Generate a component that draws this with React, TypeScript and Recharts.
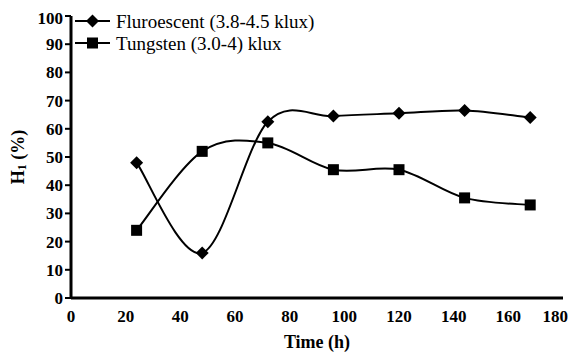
import { LineChart, Line, XAxis, YAxis, Legend } from "recharts";

const hours = [24, 48, 72, 96, 120, 144, 168];
const fluorescent = [48, 16, 62.5, 64.5, 65.5, 66.5, 64];
const tungsten = [24, 52, 55, 45.5, 45.5, 35.5, 33];
const xTicks = [0, 20, 40, 60, 80, 100, 120, 140, 160, 180];
const yTicks = [0, 10, 20, 30, 40, 50, 60, 70, 80, 90, 100];
const seriesNames = ["Fluroescent (3.8-4.5 klux)", "Tungsten (3.0-4) klux"];

const data = hours.map((h, i) => ({
  time: h,
  fluorescent: fluorescent[i],
  tungsten: tungsten[i],
}));

const FONT = "Liberation Serif";

const tickStyle = {
  fontFamily: FONT,
  fontSize: 17,
  fontWeight: "bold",
  fill: "#000",
};

// Catmull-Rom style smoothing, same shape as the original plotting tool
const smoothCurve = (context: any) => {
  let pts: [number, number][] = [];
  return {
    areaStart() {},
    areaEnd() {},
    lineStart() {
      pts = [];
    },
    lineEnd() {
      if (!pts.length) return;
      context.moveTo(pts[0][0], pts[0][1]);
      for (let i = 0; i < pts.length - 1; i++) {
        const p0 = pts[Math.max(i - 1, 0)];
        const p1 = pts[i];
        const p2 = pts[i + 1];
        const p3 = pts[Math.min(i + 2, pts.length - 1)];
        context.bezierCurveTo(
          p1[0] + (p2[0] - p0[0]) / 6,
          p1[1] + (p2[1] - p0[1]) / 6,
          p2[0] - (p3[0] - p1[0]) / 6,
          p2[1] - (p3[1] - p1[1]) / 6,
          p2[0],
          p2[1]
        );
      }
    },
    point(x: number, y: number) {
      pts.push([x, y]);
    },
  };
};

const Diamond = ({ cx, cy }: any) => (
  <polygon
    points={`${cx},${cy - 6.5} ${cx + 6.5},${cy} ${cx},${cy + 6.5} ${cx - 6.5},${cy}`}
    fill="#000"
  />
);

const Square = ({ cx, cy }: any) => (
  <rect x={cx - 5.5} y={cy - 5.5} width={11} height={11} fill="#000" />
);

const YTitle = ({ viewBox }: any) => {
  const x = viewBox.x + 10;
  const y = viewBox.y + viewBox.height / 2;
  return (
    <text
      x={x}
      y={y}
      transform={`rotate(-90, ${x}, ${y})`}
      textAnchor="middle"
      dominantBaseline="central"
      style={{ fontFamily: FONT, fontSize: 18, fontWeight: "bold" }}
      fill="#000"
    >
      H
      <tspan fontSize={12} dy={4}>1</tspan>
      <tspan dy={-4}> (%)</tspan>
    </text>
  );
};

const LegendBox = () => (
  <svg width={280} height={50}>
    {seriesNames.map((name, i) => {
      const y = 13 + i * 22;
      return (
        <g key={name}>
          <line x1={0} x2={35} y1={y} y2={y} stroke="#000" strokeWidth={2} />
          {i === 0 ? <Diamond cx={17.5} cy={y} /> : <Square cx={17.5} cy={y} />}
          <text
            x={41}
            y={y}
            dominantBaseline="central"
            style={{ fontFamily: FONT, fontSize: 19 }}
            fill="#000"
          >
            {name}
          </text>
        </g>
      );
    })}
  </svg>
);

export default function App() {
  return (
    <div style={{ width: 560, height: 349, background: "#fff", fontFamily: FONT }}>
      <LineChart
        width={560}
        height={349}
        data={data}
        margin={{ top: 8, right: 5, left: 0, bottom: 0 }}
      >
        <XAxis
          dataKey="time"
          type="number"
          domain={[0, 180]}
          ticks={xTicks}
          tick={tickStyle}
          tickLine={false}
          tickSize={0}
          tickMargin={12}
          height={59}
          axisLine={{ stroke: "#000", strokeWidth: 3 }}
          label={{
            value: "Time (h)",
            position: "insideBottom",
            offset: 9,
            style: { ...tickStyle, fontSize: 18 },
          }}
        />
        <YAxis
          type="number"
          domain={[0, 100]}
          ticks={yTicks}
          tick={tickStyle}
          tickSize={6}
          tickMargin={2}
          width={63}
          tickLine={{ stroke: "#000", strokeWidth: 2 }}
          axisLine={{ stroke: "#000", strokeWidth: 3 }}
          label={<YTitle />}
        />
        <Legend
          layout="horizontal"
          verticalAlign="middle"
          align="center"
          content={() => <LegendBox />}
          wrapperStyle={{ position: "absolute", left: 67, top: 0, width: 280 }}
        />
        <Line
          type={smoothCurve as any}
          dataKey="fluorescent"
          name={seriesNames[0]}
          stroke="#000"
          strokeWidth={2}
          dot={<Diamond />}
          activeDot={false}
          isAnimationActive={false}
        />
        <Line
          type={smoothCurve as any}
          dataKey="tungsten"
          name={seriesNames[1]}
          stroke="#000"
          strokeWidth={2}
          dot={<Square />}
          activeDot={false}
          isAnimationActive={false}
        />
      </LineChart>
    </div>
  );
}
